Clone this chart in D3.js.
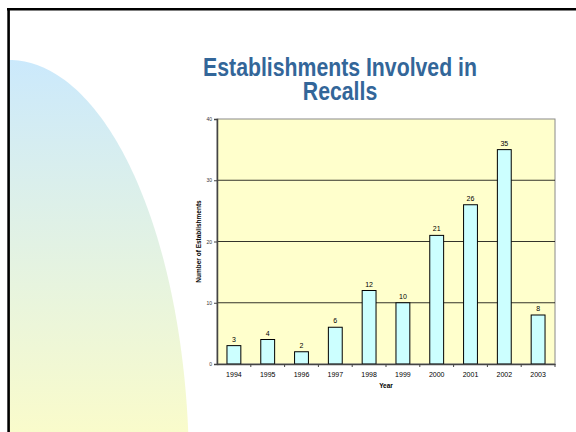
<!DOCTYPE html>
<html>
<head>
<meta charset="utf-8">
<script src="https://cdn.jsdelivr.net/npm/d3@7"></script>
<style>
  body { margin: 0; background: #fff; }
  svg { display: block; }
</style>
</head>
<body>
<div id="chart"></div>
<script>
// recall data
var years = ["1994", "1995", "1996", "1997", "1998", "1999", "2000", "2001", "2002", "2003"];
var establishments = [3, 4, 2, 6, 12, 10, 21, 26, 35, 8];
var yTicks = [0, 10, 20, 30, 40];
var titleLines = ["Establishments Involved in", "Recalls"];

var width = 576;
var height = 432;
var plot = { left: 217, top: 119, right: 555, bottom: 364 };

var svg = d3.select('#chart')
    .append('svg')
    .attr('width', width)
    .attr('height', height);

// slide background decoration
var defs = svg.append('defs');
var grad = defs.append('linearGradient')
    .attr('id', 'leftFade')
    .attr('x1', 0).attr('y1', 0)
    .attr('x2', 0).attr('y2', 1);
grad.append('stop').attr('offset', '0%').attr('stop-color', '#cbe9fc');
grad.append('stop').attr('offset', '100%').attr('stop-color', '#fefdc6');

svg.append('path')
    .attr('d', function () {
        var cx = 9, cy = 470, rx = 180, ry = 410;
        // quarter ellipse sampled
        var pts = d3.range(0, 91).map(function (a) {
            var t = a * Math.PI / 180;
            return [cx + rx * Math.sin(t), cy - ry * Math.cos(t)];
        });
        return d3.line()(pts) + 'L' + cx + ',' + cy + 'Z';
    })
    .attr('fill', 'url(#leftFade)');

// frame lines of the slide
svg.append('line')
    .attr('x1', 7).attr('x2', width)
    .attr('y1', 9.3).attr('y2', 9.3)
    .attr('stroke', '#000').attr('stroke-width', 2.6);
svg.append('line')
    .attr('x1', 8.6).attr('x2', 8.6)
    .attr('y1', 8).attr('y2', height)
    .attr('stroke', '#000').attr('stroke-width', 2.6);

// title, squeezed to look like a narrow face
var title = svg.append('g')
    .attr('transform', 'translate(340,0) scale(0.85,1)');
title.selectAll('text')
    .data(titleLines)
    .enter()
    .append('text')
    .attr('x', 0)
    .attr('y', function (d, i) { return 76 + i * 24; })
    .attr('text-anchor', 'middle')
    .attr('fill', '#336699')
    .style('font-family', 'Arial, "Liberation Sans", sans-serif')
    .style('font-weight', 'bold')
    .style('font-size', '25px')
    .text(function (d) { return d; });

var x = d3.scaleBand()
    .domain(years)
    .range([plot.left, plot.right])
    .paddingInner(0.59)
    .paddingOuter(0.295);

var y = d3.scaleLinear()
    .domain([0, 40])
    .range([plot.bottom, plot.top]);

// plot area
svg.append('rect')
    .attr('x', plot.left)
    .attr('y', plot.top)
    .attr('width', plot.right - plot.left)
    .attr('height', plot.bottom - plot.top)
    .attr('fill', '#ffffcc')
    .attr('stroke', '#8a8a8a')
    .attr('stroke-width', 1);

svg.selectAll('.grid')
    .data(yTicks.filter(function (d) { return d > 0 && d < 40; }))
    .enter()
    .append('line')
    .attr('class', 'grid')
    .attr('x1', plot.left).attr('x2', plot.right)
    .attr('y1', function (d) { return y(d); })
    .attr('y2', function (d) { return y(d); })
    .attr('stroke', '#000')
    .attr('stroke-width', 0.8);

// bars
svg.selectAll('.bar')
    .data(establishments)
    .enter()
    .append('rect')
    .attr('class', 'bar')
    .attr('x', function (d, i) { return x(years[i]); })
    .attr('y', function (d) { return y(d); })
    .attr('width', x.bandwidth())
    .attr('height', function (d) { return y(0) - y(d); })
    .attr('fill', '#ccffff')
    .attr('stroke', '#000')
    .attr('stroke-width', 1);

svg.selectAll('.value')
    .data(establishments)
    .enter()
    .append('text')
    .attr('class', 'value')
    .attr('x', function (d, i) { return x(years[i]) + x.bandwidth() / 2; })
    .attr('y', function (d) { return y(d) - 4; })
    .attr('text-anchor', 'middle')
    .style('font-family', 'Arial, "Liberation Sans", sans-serif')
    .style('font-size', '7px')
    .attr('fill', '#000')
    .text(function (d) { return d; });

// y axis
var yAxis = svg.append('g')
    .attr('transform', 'translate(' + plot.left + ',0)')
    .call(d3.axisLeft(y).tickValues(yTicks).tickSize(3).tickPadding(2));
yAxis.select('.domain').attr('stroke', '#444').attr('stroke-width', 1.5);
yAxis.selectAll('.tick line').attr('stroke', '#444');
yAxis.selectAll('text')
    .style('font-family', 'Arial, "Liberation Sans", sans-serif')
    .style('font-size', '5px')
    .attr('fill', '#333');

// x axis with marks between categories
var xAxis = svg.append('g')
    .attr('transform', 'translate(0,' + plot.bottom + ')')
    .call(d3.axisBottom(x).tickSize(0).tickPadding(8));
xAxis.select('.domain').attr('stroke', '#444').attr('stroke-width', 1.5);
xAxis.selectAll('text')
    .style('font-family', 'Arial, "Liberation Sans", sans-serif')
    .style('font-size', '7px')
    .attr('fill', '#000');

svg.selectAll('.xmark')
    .data(d3.range(1, years.length + 1))
    .enter()
    .append('line')
    .attr('class', 'xmark')
    .attr('x1', function (i) { return plot.left + i * x.step(); })
    .attr('x2', function (i) { return plot.left + i * x.step(); })
    .attr('y1', plot.bottom)
    .attr('y2', plot.bottom + 3)
    .attr('stroke', '#444')
    .attr('stroke-width', 1);

// axis titles
svg.append('text')
    .attr('x', (plot.left + plot.right) / 2)
    .attr('y', 388)
    .attr('text-anchor', 'middle')
    .style('font-family', 'Arial, "Liberation Sans", sans-serif')
    .style('font-weight', 'bold')
    .style('font-size', '6.5px')
    .text('Year');

svg.append('text')
    .attr('transform', 'translate(201,' + ((plot.top + plot.bottom) / 2) + ') rotate(-90)')
    .attr('text-anchor', 'middle')
    .style('font-family', 'Arial, "Liberation Sans", sans-serif')
    .style('font-weight', 'bold')
    .style('font-size', '6.5px')
    .text('Number of Establishments');
</script>
</body>
</html>
